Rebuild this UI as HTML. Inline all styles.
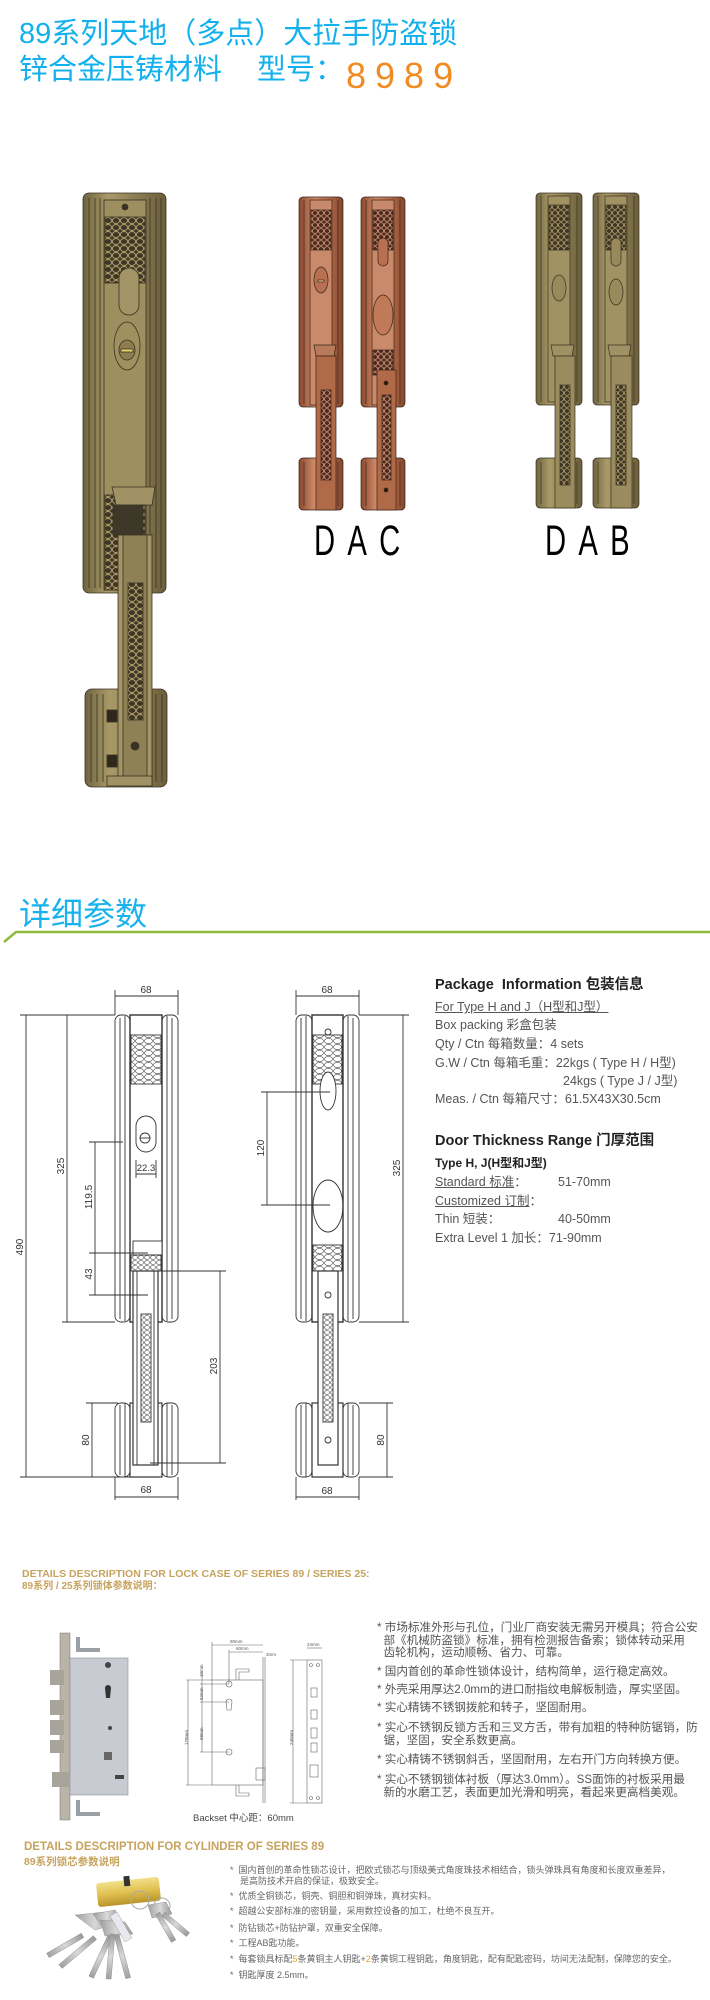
<!DOCTYPE html>
<html><head><meta charset="utf-8">
<style>
*{margin:0;padding:0;box-sizing:border-box}
html,body{width:710px;height:2000px;background:#fff;overflow:hidden}
body{position:relative;font-family:"Liberation Sans","Noto Sans CJK SC",sans-serif}
.a{position:absolute;white-space:nowrap}
.t{color:#12b0ec;font-family:"Liberation Sans","Noto Sans CJK SC",sans-serif;font-size:29px;line-height:34px}
.pk{font-size:12.5px;color:#555;line-height:18px}
.pb{font-weight:bold;color:#222}
.u{text-decoration:underline}
.lb{font-size:11.6px;color:#555;line-height:12.5px}
.cb{font-size:9px;color:#666;line-height:11px}
.gold{color:#c6a35e;font-weight:bold}
</style></head><body>

<div class="a t" style="left:19px;top:17px">89系列天地（多点）大拉手防盗锁</div>
<div class="a t" style="left:19px;top:53px">锌合金压铸材料</div>
<div class="a t" style="left:257px;top:53px">型号：</div>
<div class="a" style="left:346px;top:58px;font-size:36px;line-height:36px;color:#f28a22;letter-spacing:9px">8989</div>

<div class="a" style="left:314px;top:520px;font-size:43px;line-height:43px;letter-spacing:18px;transform:scaleX(0.68);transform-origin:0 0;color:#000">DAC</div>
<div class="a" style="left:545px;top:520px;font-size:43px;line-height:43px;letter-spacing:18px;transform:scaleX(0.68);transform-origin:0 0;color:#000">DAB</div>

<div class="a" style="left:19px;top:892px;font-size:32px;line-height:40px;color:#18b2ec;font-family:'Noto Sans CJK SC',sans-serif">详细参数</div>

<svg class="a" style="left:0;top:0" width="710" height="2000" viewBox="0 0 710 2000">
<defs>
<pattern id="lat" width="8" height="7" patternUnits="userSpaceOnUse">
<rect width="8" height="7" fill="#3e3626"/>
<ellipse cx="4" cy="3.5" rx="3.6" ry="3" fill="none" stroke="#b5a06a" stroke-width="0.9"/>
</pattern>
<pattern id="latc" width="6" height="6" patternUnits="userSpaceOnUse">
<rect width="6" height="6" fill="#4a2a1e"/>
<ellipse cx="3" cy="3" rx="2.6" ry="2.4" fill="none" stroke="#d9987a" stroke-width="0.8"/>
</pattern>
<pattern id="latb" width="6" height="6" patternUnits="userSpaceOnUse">
<rect width="6" height="6" fill="#3e3626"/>
<ellipse cx="3" cy="3" rx="2.6" ry="2.4" fill="none" stroke="#b5a06a" stroke-width="0.8"/>
</pattern>
<pattern id="dl" width="9" height="6" patternUnits="userSpaceOnUse">
<rect width="9" height="6" fill="#fff"/>
<ellipse cx="4.5" cy="3" rx="4" ry="2.6" fill="none" stroke="#444" stroke-width="0.6"/>
</pattern>
<pattern id="dls" width="6" height="5" patternUnits="userSpaceOnUse">
<rect width="6" height="5" fill="#fff"/>
<ellipse cx="3" cy="2.5" rx="2.5" ry="2" fill="none" stroke="#444" stroke-width="0.6"/>
</pattern>
<linearGradient id="gb" x1="0" x2="1"><stop offset="0" stop-color="#6f6440"/><stop offset=".3" stop-color="#a99a68"/><stop offset=".6" stop-color="#8f8155"/><stop offset="1" stop-color="#6a5e3c"/></linearGradient>
<linearGradient id="gc" x1="0" x2="1"><stop offset="0" stop-color="#8a4a30"/><stop offset=".35" stop-color="#d08a68"/><stop offset=".65" stop-color="#b8704e"/><stop offset="1" stop-color="#84452c"/></linearGradient>
<linearGradient id="gbr" x1="0" y1="0" x2="0" y2="1"><stop offset="0" stop-color="#f2e08a"/><stop offset=".5" stop-color="#e0c050"/><stop offset="1" stop-color="#b8952c"/></linearGradient>
<linearGradient id="gs" x1="0" x2="1"><stop offset="0" stop-color="#a0a0a0"/><stop offset=".5" stop-color="#d8d8d8"/><stop offset="1" stop-color="#999"/></linearGradient>
</defs>

<!-- BIG HANDLE -->
<g stroke="#3a3222" stroke-width="0.8">
<rect x="83" y="193" width="83" height="400" rx="6" fill="url(#gb)"/>
<rect x="104" y="200" width="42" height="390" fill="#9d8f60"/>
<line x1="89" y1="198" x2="89" y2="588"/><line x1="95" y1="198" x2="95" y2="588"/><line x1="100" y1="198" x2="100" y2="588"/>
<line x1="150" y1="198" x2="150" y2="588"/><line x1="156" y1="198" x2="156" y2="588"/><line x1="161" y1="198" x2="161" y2="588"/>
<rect x="105" y="217" width="40" height="66" fill="url(#lat)"/>
<circle cx="125" cy="207" r="3" fill="#3a3222"/>
<rect x="119" y="268" width="20" height="47" rx="10" fill="#a39466"/>
<ellipse cx="127" cy="346" rx="13" ry="24" fill="#a09060"/>
<ellipse cx="127" cy="350" rx="8" ry="10" fill="#8c7e50"/>
<rect x="121" y="349" width="12" height="3" fill="#e8d070"/>
<rect x="105" y="495" width="40" height="95" fill="url(#lat)"/>
<path d="M112 487 L155 487 L152 505 L116 505 Z" fill="#a09264"/>
<rect x="113" y="505" width="30" height="30" fill="#3e3828"/>
<rect x="85" y="689" width="82" height="98" rx="7" fill="url(#gb)"/>
<line x1="91" y1="694" x2="91" y2="782"/><line x1="97" y1="694" x2="97" y2="782"/><line x1="103" y1="694" x2="103" y2="782"/>
<line x1="150" y1="694" x2="150" y2="782"/><line x1="156" y1="694" x2="156" y2="782"/><line x1="162" y1="694" x2="162" y2="782"/>
<rect x="107" y="710" width="10" height="12" fill="#2e281c"/><rect x="107" y="755" width="10" height="12" fill="#2e281c"/>
<rect x="118" y="535" width="34" height="250" fill="#a39566"/>
<rect x="123" y="535" width="24" height="250" fill="#8f8156"/>
<rect x="128" y="583" width="15" height="137" fill="url(#lat)"/>
<circle cx="135" cy="746" r="4" fill="#3a3222"/>
<rect x="107" y="776" width="45" height="10" fill="#a09264"/>
</g>

<!-- small handles -->
<g stroke="#3a2418" stroke-width="0.7">
<rect x="299" y="197" width="44" height="210" rx="4" fill="url(#gc)"/>
<rect x="310" y="200" width="22" height="205" fill="#c88a6a"/>
<line x1="304" y1="200" x2="304" y2="404"/><line x1="338" y1="200" x2="338" y2="404"/>
<rect x="311" y="210" width="20" height="40" fill="url(#latc)"/>
<ellipse cx="321" cy="280" rx="7" ry="13" fill="#b87050"/>
<rect x="318" y="280" width="6" height="2" fill="#e8c090"/>
<rect x="299" y="458" width="44" height="52" rx="4" fill="url(#gc)"/>
<line x1="304" y1="462" x2="304" y2="506"/><line x1="338" y1="462" x2="338" y2="506"/>
<path d="M314 345 L336 345 L334 356 L316 356 Z" fill="#b87a5a"/>
<rect x="316" y="356" width="20" height="154" fill="#b06a48"/>
<rect x="321" y="390" width="10" height="90" fill="url(#latc)"/>
</g>
<g stroke="#3a2418" stroke-width="0.7">
<rect x="361" y="197" width="44" height="210" rx="4" fill="url(#gc)"/>
<rect x="372" y="200" width="22" height="205" fill="#c88a6a"/>
<line x1="366" y1="200" x2="366" y2="404"/><line x1="400" y1="200" x2="400" y2="404"/>
<rect x="373" y="210" width="20" height="40" fill="url(#latc)"/>
<rect x="378" y="238" width="10" height="28" rx="5" fill="#b87050"/>
<ellipse cx="383" cy="315" rx="10" ry="20" fill="#c07a58"/>
<rect x="373" y="350" width="20" height="25" fill="url(#latc)"/>
<rect x="361" y="458" width="44" height="52" rx="4" fill="url(#gc)"/>
<line x1="366" y1="462" x2="366" y2="506"/><line x1="400" y1="462" x2="400" y2="506"/>
<rect x="377" y="370" width="19" height="140" fill="#b06a48"/>
<rect x="382" y="395" width="9" height="85" fill="url(#latc)"/>
<circle cx="386" cy="383" r="2" fill="#2a1810"/><circle cx="386" cy="490" r="2" fill="#2a1810"/>
</g>
<g stroke="#3a3222" stroke-width="0.7">
<rect x="536" y="193" width="46" height="212" rx="4" fill="url(#gb)"/>
<rect x="548" y="196" width="22" height="206" fill="#a09262"/>
<line x1="541" y1="196" x2="541" y2="402"/><line x1="577" y1="196" x2="577" y2="402"/>
<rect x="549" y="205" width="20" height="45" fill="url(#latb)"/>
<ellipse cx="559" cy="288" rx="7" ry="13" fill="#988a5c"/>
<rect x="536" y="458" width="46" height="50" rx="4" fill="url(#gb)"/>
<line x1="541" y1="462" x2="541" y2="504"/><line x1="577" y1="462" x2="577" y2="504"/>
<path d="M551 345 L574 345 L572 356 L553 356 Z" fill="#a09264"/>
<rect x="555" y="356" width="20" height="152" fill="#9a8c5e"/>
<rect x="560" y="385" width="10" height="100" fill="url(#latb)"/>
<rect x="593" y="193" width="46" height="212" rx="4" fill="url(#gb)"/>
<rect x="605" y="196" width="22" height="206" fill="#a09262"/>
<line x1="598" y1="196" x2="598" y2="402"/><line x1="634" y1="196" x2="634" y2="402"/>
<rect x="606" y="205" width="20" height="45" fill="url(#latb)"/>
<rect x="611" y="238" width="10" height="28" rx="5" fill="#988a5c"/>
<ellipse cx="616" cy="292" rx="7" ry="13" fill="#988a5c"/>
<rect x="593" y="458" width="46" height="50" rx="4" fill="url(#gb)"/>
<line x1="598" y1="462" x2="598" y2="504"/><line x1="634" y1="462" x2="634" y2="504"/>
<path d="M608 345 L631 345 L629 356 L610 356 Z" fill="#a09264"/>
<rect x="611" y="356" width="21" height="152" fill="#9a8c5e"/>
<rect x="616" y="385" width="10" height="100" fill="url(#latb)"/>
</g>

<!-- green line -->
<path d="M4 942 L16 932 L710 932" fill="none" stroke="#8dbb3c" stroke-width="2.5"/>

<!-- DRAWINGS -->
<g fill="none" stroke="#333" stroke-width="0.9">
<rect x="115" y="1015" width="15" height="307" rx="6" fill="#fff"/><line x1="120" y1="1018" x2="120" y2="1319"/><line x1="125" y1="1016" x2="125" y2="1321"/>
<rect x="162" y="1015" width="16" height="307" rx="6" fill="#fff"/><line x1="167" y1="1016" x2="167" y2="1321"/><line x1="172" y1="1018" x2="172" y2="1319"/>
<rect x="130" y="1015" width="32" height="307" stroke-width="1.4"/>
<rect x="131" y="1035" width="30" height="49" fill="url(#dl)"/>
<rect x="136" y="1116" width="20" height="36" rx="10"/>
<circle cx="145" cy="1138" r="5"/><line x1="140" y1="1138" x2="150" y2="1138"/>
<line x1="136" y1="1174" x2="156" y2="1174"/><line x1="136" y1="1160" x2="136" y2="1178"/><line x1="156" y1="1160" x2="156" y2="1178"/>
<rect x="133" y="1241" width="29" height="14" fill="#fff"/>
<rect x="131" y="1255" width="30" height="16" fill="url(#dls)"/>
<rect x="115" y="1403" width="15" height="74" rx="6" fill="#fff"/><line x1="120" y1="1405" x2="120" y2="1475"/><line x1="125" y1="1403" x2="125" y2="1477"/>
<rect x="162" y="1403" width="16" height="74" rx="6" fill="#fff"/><line x1="167" y1="1403" x2="167" y2="1477"/><line x1="172" y1="1405" x2="172" y2="1475"/>
<rect x="130" y="1403" width="32" height="74" stroke-width="1.2"/>
<rect x="133" y="1271" width="25" height="194" fill="#fff" stroke-width="1.2"/>
<line x1="137" y1="1271" x2="137" y2="1465"/><line x1="154" y1="1271" x2="154" y2="1465"/>
<rect x="141" y="1314" width="10" height="108" fill="url(#dls)"/>
<line x1="115" y1="996" x2="178" y2="996"/><line x1="115" y1="990" x2="115" y2="1015"/><line x1="178" y1="990" x2="178" y2="1015"/>
<line x1="20" y1="1015" x2="115" y2="1015"/><line x1="20" y1="1477" x2="130" y2="1477"/>
<line x1="26" y1="1015" x2="26" y2="1477"/>
<line x1="67" y1="1015" x2="67" y2="1322"/><line x1="62" y1="1322" x2="115" y2="1322"/>
<line x1="89" y1="1142" x2="123" y2="1142"/><line x1="95" y1="1142" x2="95" y2="1295"/>
<line x1="89" y1="1253" x2="148" y2="1253"/><line x1="89" y1="1295" x2="148" y2="1295"/>
<line x1="150" y1="1271" x2="226" y2="1271"/><line x1="150" y1="1463" x2="226" y2="1463"/><line x1="220" y1="1271" x2="220" y2="1463"/>
<line x1="86" y1="1403" x2="118" y2="1403"/><line x1="92" y1="1403" x2="92" y2="1477"/>
<line x1="115" y1="1497" x2="178" y2="1497"/><line x1="115" y1="1477" x2="115" y2="1500"/><line x1="178" y1="1477" x2="178" y2="1500"/>
<rect x="296" y="1015" width="16" height="307" rx="6" fill="#fff"/><line x1="301" y1="1018" x2="301" y2="1319"/><line x1="306" y1="1016" x2="306" y2="1321"/>
<rect x="343" y="1015" width="16" height="307" rx="6" fill="#fff"/><line x1="348" y1="1016" x2="348" y2="1321"/><line x1="353" y1="1018" x2="353" y2="1319"/>
<rect x="312" y="1015" width="31" height="307" stroke-width="1.4"/>
<rect x="313" y="1035" width="29" height="49" fill="url(#dl)"/>
<circle cx="328" cy="1032" r="3"/>
<ellipse cx="328" cy="1091" rx="8" ry="19" fill="#fff"/>
<ellipse cx="328" cy="1206" rx="15" ry="26"/>
<rect x="313" y="1245" width="29" height="26" fill="url(#dl)"/>
<rect x="296" y="1403" width="16" height="74" rx="6" fill="#fff"/><line x1="301" y1="1405" x2="301" y2="1475"/><line x1="306" y1="1403" x2="306" y2="1477"/>
<rect x="343" y="1403" width="16" height="74" rx="6" fill="#fff"/><line x1="348" y1="1403" x2="348" y2="1477"/><line x1="353" y1="1405" x2="353" y2="1475"/>
<rect x="312" y="1403" width="31" height="74" stroke-width="1.2"/>
<rect x="318" y="1271" width="20" height="194" fill="#fff" stroke-width="1.2"/>
<rect x="323" y="1314" width="10" height="108" fill="url(#dls)"/>
<circle cx="328" cy="1295" r="3"/><circle cx="328" cy="1440" r="3"/>
<line x1="296" y1="996" x2="359" y2="996"/><line x1="296" y1="990" x2="296" y2="1015"/><line x1="359" y1="990" x2="359" y2="1015"/>
<line x1="261" y1="1092" x2="330" y2="1092"/><line x1="261" y1="1205" x2="330" y2="1205"/><line x1="267" y1="1092" x2="267" y2="1205"/>
<line x1="359" y1="1015" x2="409" y2="1015"/><line x1="359" y1="1322" x2="409" y2="1322"/><line x1="403" y1="1015" x2="403" y2="1322"/>
<line x1="359" y1="1403" x2="393" y2="1403"/><line x1="359" y1="1477" x2="393" y2="1477"/><line x1="387" y1="1403" x2="387" y2="1477"/>
<line x1="296" y1="1497" x2="359" y2="1497"/><line x1="296" y1="1477" x2="296" y2="1500"/><line x1="359" y1="1477" x2="359" y2="1500"/>
</g>
<g font-family="Liberation Sans Narrow,Liberation Sans,sans-serif" font-size="10" fill="#333" text-anchor="middle">
<text x="146" y="993">68</text><text x="327" y="993">68</text>
<text x="146" y="1493">68</text><text x="327" y="1494">68</text>
<text x="146" y="1171" font-size="9.5">22.3</text>
<text transform="translate(23,1247) rotate(-90)">490</text>
<text transform="translate(64,1166) rotate(-90)">325</text>
<text transform="translate(92,1197) rotate(-90)">119.5</text>
<text transform="translate(92,1274) rotate(-90)">43</text>
<text transform="translate(89,1440) rotate(-90)">80</text>
<text transform="translate(217,1366) rotate(-90)">203</text>
<text transform="translate(264,1148) rotate(-90)">120</text>
<text transform="translate(400,1168) rotate(-90)">325</text>
<text transform="translate(384,1440) rotate(-90)">80</text>
</g>

<g>
<rect x="60" y="1633" width="10" height="187" fill="#b9b3a8" stroke="#777" stroke-width="0.5"/>
<path d="M76 1637 L80 1637 L80 1648 L100 1648 L100 1652 L76 1652 Z" fill="#9aa0a6"/>
<path d="M76 1800 L80 1800 L80 1812 L100 1812 L100 1816 L76 1816 Z" fill="#9aa0a6"/>
<rect x="70" y="1658" width="58" height="137" fill="#c8ccd2" stroke="#8a8f96" stroke-width="0.6"/>
<rect x="50" y="1670" width="14" height="15" fill="#a8a49c"/><rect x="50" y="1700" width="14" height="15" fill="#a8a49c"/>
<rect x="50" y="1720" width="14" height="15" fill="#a8a49c"/><rect x="50" y="1740" width="14" height="13" fill="#a8a49c"/>
<rect x="52" y="1772" width="18" height="15" fill="#a8a49c"/>
<circle cx="108" cy="1665" r="3" fill="#444"/><path d="M105 1688 a3 3 0 1 1 6 0 l-1 10 h-4z" fill="#333"/>
<circle cx="110" cy="1728" r="2" fill="#444"/><rect x="104" y="1752" width="8" height="8" fill="#666"/>
<rect x="115" y="1775" width="9" height="4" fill="#444"/>
</g>
<g fill="none" stroke="#666" stroke-width="0.6">
<rect x="212" y="1680" width="51" height="105"/>
<line x1="263" y1="1657" x2="263" y2="1803"/><line x1="265" y1="1657" x2="265" y2="1803"/>
<path d="M239 1680 v-8 h10 v-3 h-13 v11"/><path d="M239 1785 v8 h10 v3 h-13 v-11"/>
<circle cx="229" cy="1684" r="3"/><path d="M226 1702 a3 3 0 1 1 6 0 l-1 8 h-4z"/><circle cx="229" cy="1752" r="3"/>
<rect x="256" y="1768" width="9" height="12"/>
<line x1="212" y1="1645" x2="263" y2="1645"/><line x1="229" y1="1652" x2="263" y2="1652"/>
<line x1="212" y1="1642" x2="212" y2="1680"/><line x1="229" y1="1650" x2="229" y2="1684"/>
<line x1="186" y1="1680" x2="212" y2="1680"/><line x1="186" y1="1785" x2="212" y2="1785"/><line x1="188" y1="1680" x2="188" y2="1785"/>
<line x1="200" y1="1684" x2="229" y2="1684"/><line x1="200" y1="1702" x2="229" y2="1702"/><line x1="200" y1="1752" x2="229" y2="1752"/>
<line x1="202" y1="1672" x2="202" y2="1752"/>
<rect x="307" y="1660" width="15" height="143"/>
<line x1="290" y1="1660" x2="307" y2="1660"/><line x1="290" y1="1803" x2="307" y2="1803"/><line x1="293" y1="1660" x2="293" y2="1803"/>
<line x1="307" y1="1648" x2="322" y2="1648"/>
<circle cx="311" cy="1665" r="1.5"/><circle cx="318" cy="1665" r="1.5"/><circle cx="311" cy="1798" r="1.5"/><circle cx="318" cy="1798" r="1.5"/>
<rect x="311" y="1688" width="6" height="9"/><rect x="311" y="1710" width="6" height="9"/><rect x="311" y="1728" width="6" height="10"/><rect x="311" y="1743" width="6" height="9"/><rect x="310" y="1765" width="8" height="12"/>
</g>
<g font-family="Liberation Sans,sans-serif" font-size="4.5" fill="#555">
<text x="230" y="1643">90mm</text><text x="236" y="1650">60mm</text><text x="266" y="1656">3mm</text><text x="307" y="1646">24mm</text>
<text transform="translate(203,1677) rotate(-90)">10mm</text><text transform="translate(203,1700) rotate(-90)">52mm</text>
<text transform="translate(203,1740) rotate(-90)">68mm</text><text transform="translate(188,1745) rotate(-90)">178mm</text>
<text transform="translate(293,1745) rotate(-90)">240mm</text>
</g>

<g>
<rect x="97" y="1880" width="63" height="24" rx="3" fill="url(#gbr)" transform="rotate(-6 128 1892)"/>
<rect x="125" y="1876" width="6" height="10" fill="#333" transform="rotate(-6 128 1892)"/>
<circle cx="140" cy="1900" r="9" fill="none" stroke="#aaa" stroke-width="1"/>
<circle cx="162" cy="1906" r="8" fill="none" stroke="#aaa" stroke-width="1"/>
<g fill="url(#gs)" stroke="#888" stroke-width="0.4">
<path d="M75 1915 l30 -3 l10 12 l-20 6z"/>
<path d="M93 1914 l22 -4 l6 10 l-20 5z"/>
<path d="M100 1920 l25 2 l8 12 l-28 2z"/>
<rect x="45" y="1943" width="40" height="5" transform="rotate(-30 65 1945)"/>
<rect x="55" y="1950" width="45" height="5" transform="rotate(-40 77 1952)"/>
<rect x="78" y="1955" width="45" height="5" transform="rotate(-65 100 1957)"/>
<rect x="88" y="1955" width="45" height="5" transform="rotate(-85 110 1957)"/>
<rect x="100" y="1955" width="45" height="5" transform="rotate(-105 122 1957)"/>
<path d="M148 1905 l18 -3 l6 12 l-20 4z"/>
<rect x="150" y="1925" width="32" height="5" transform="rotate(60 166 1927)"/>
<rect x="160" y="1922" width="32" height="5" transform="rotate(40 176 1924)"/>
</g>
<rect x="117" y="1912" width="8" height="30" fill="#e8e8ee" stroke="#999" stroke-width="0.4" transform="rotate(-30 121 1927)"/>
</g>
</svg>

<div class="a pk pb" style="left:435px;top:976px;font-size:14.5px">Package&nbsp; Information 包装信息</div>
<div class="a pk u" style="left:435px;top:998px">For Type H and J（H型和J型）</div>
<div class="a pk" style="left:435px;top:1016px">Box packing 彩盒包装</div>
<div class="a pk" style="left:435px;top:1035px">Qty / Ctn 每箱数量：4 sets</div>
<div class="a pk" style="left:435px;top:1054px">G.W / Ctn 每箱毛重：22kgs ( Type H / H型)</div>
<div class="a pk" style="left:563px;top:1072px">24kgs ( Type J / J型)</div>
<div class="a pk" style="left:435px;top:1090px">Meas. / Ctn 每箱尺寸：61.5X43X30.5cm</div>
<div class="a pk pb" style="left:435px;top:1132px;font-size:14.5px">Door Thickness Range 门厚范围</div>
<div class="a pk pb" style="left:435px;top:1154px;font-size:12px">Type H, J(H型和J型)</div>
<div class="a pk" style="left:435px;top:1173px"><span class="u">Standard 标准</span>：</div><div class="a pk" style="left:558px;top:1173px">51-70mm</div>
<div class="a pk" style="left:435px;top:1192px"><span class="u">Customized 订制</span>：</div>
<div class="a pk" style="left:435px;top:1210px">Thin 短装：</div><div class="a pk" style="left:558px;top:1210px">40-50mm</div>
<div class="a pk" style="left:435px;top:1229px">Extra Level 1 加长：71-90mm</div>

<div class="a gold" style="left:22px;top:1568px;font-size:10.5px;line-height:12px">DETAILS DESCRIPTION FOR LOCK CASE OF SERIES 89 / SERIES 25:</div>
<div class="a gold" style="left:22px;top:1581px;font-size:10px;line-height:12px">89系列 / 25系列锁体参数说明：</div>
<div class="a lb" style="left:377px;top:1622px">* 市场标准外形与孔位，门业厂商安装无需另开模具；符合公安<br>&nbsp;&nbsp;部《机械防盗锁》标准，拥有检测报告备索；锁体转动采用<br>&nbsp;&nbsp;齿轮机构，运动顺畅、省力、可靠。</div>
<div class="a lb" style="left:377px;top:1666px">* 国内首创的革命性锁体设计，结构简单，运行稳定高效。</div>
<div class="a lb" style="left:377px;top:1684px">* 外壳采用厚达2.0mm的进口耐指纹电解板制造，厚实坚固。</div>
<div class="a lb" style="left:377px;top:1702px">* 实心精铸不锈钢拨舵和转子，坚固耐用。</div>
<div class="a lb" style="left:377px;top:1722px">* 实心不锈钢反锁方舌和三叉方舌，带有加粗的特种防锯销，防<br>&nbsp;&nbsp;锯，坚固，安全系数更高。</div>
<div class="a lb" style="left:377px;top:1754px">* 实心精铸不锈钢斜舌，坚固耐用，左右开门方向转换方便。</div>
<div class="a lb" style="left:377px;top:1774px">* 实心不锈钢锁体衬板（厚达3.0mm）。SS面饰的衬板采用最<br>&nbsp;&nbsp;新的水磨工艺，表面更加光滑和明亮，看起来更高档美观。</div>
<div class="a" style="left:193px;top:1813px;font-size:9.5px;line-height:12px;color:#444">Backset 中心距：60mm</div>

<div class="a gold" style="left:24px;top:1840px;font-size:11.5px;line-height:14px">DETAILS DESCRIPTION FOR CYLINDER OF SERIES 89</div>
<div class="a gold" style="left:24px;top:1856px;font-size:10.5px;line-height:12px">89系列锁芯参数说明</div>
<div class="a cb" style="left:230px;top:1865px">*&nbsp; 国内首创的革命性锁芯设计，把欧式锁芯与顶级美式角度珠技术相结合，锁头弹珠具有角度和长度双重差异，<br>&nbsp;&nbsp;&nbsp;&nbsp;是高防技术开启的保证，极致安全。</div>
<div class="a cb" style="left:230px;top:1891px">*&nbsp; 优质全铜锁芯，铜壳、铜胆和铜弹珠，真材实料。</div>
<div class="a cb" style="left:230px;top:1906px">*&nbsp; 超越公安部标准的密钥量，采用数控设备的加工，杜绝不良互开。</div>
<div class="a cb" style="left:230px;top:1923px">*&nbsp; 防钻锁芯+防钻护罩，双重安全保障。</div>
<div class="a cb" style="left:230px;top:1938px">*&nbsp; 工程AB匙功能。</div>
<div class="a cb" style="left:230px;top:1954px">*&nbsp; 每套锁具标配<span style="color:#e8a020">5</span>条黄铜主人钥匙+<span style="color:#e8a020">2</span>条黄铜工程钥匙，角度钥匙，配有配匙密码，坊间无法配制，保障您的安全。</div>
<div class="a cb" style="left:230px;top:1970px">*&nbsp; 钥匙厚度 2.5mm。</div>
</body></html>
